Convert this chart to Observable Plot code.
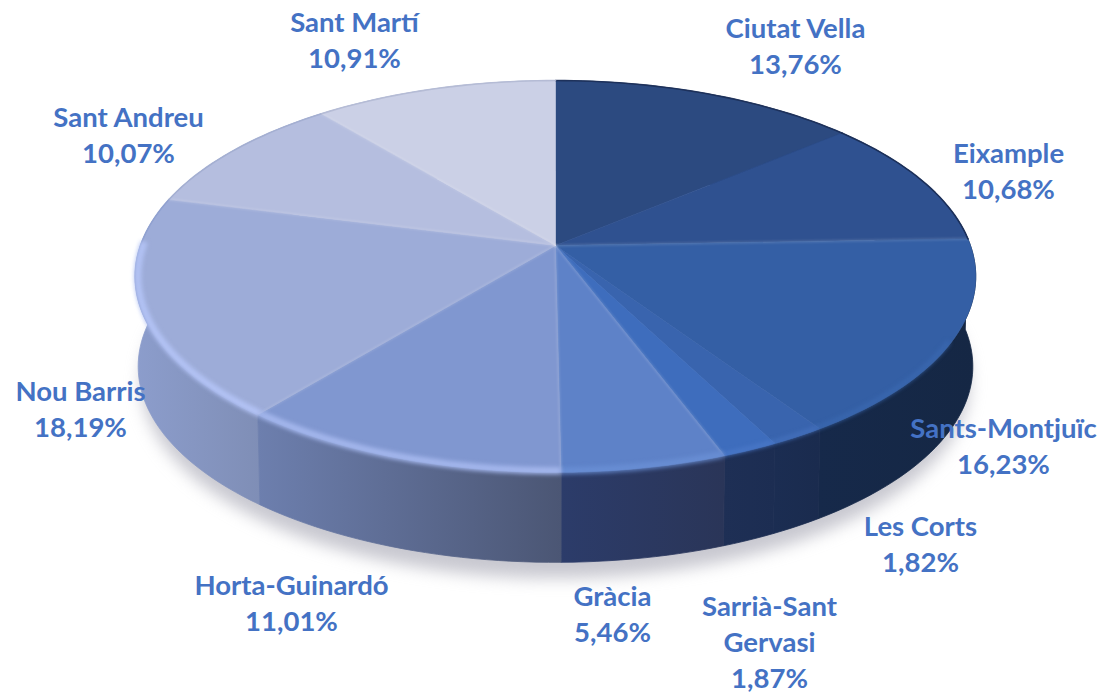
<!DOCTYPE html>
<html><head><meta charset="utf-8">
<script src="https://cdn.jsdelivr.net/npm/d3@7"></script>
<script src="https://cdn.jsdelivr.net/npm/@observablehq/plot@0.6"></script>
<style>html,body{margin:0;padding:0;background:#fff}svg{display:block}</style>
</head><body><div id="chart"></div>
<script>
const districts = ["Ciutat Vella","Eixample","Sants-Montjuïc","Les Corts","Sarrià-Sant\nGervasi","Gràcia","Horta-Guinardó","Nou Barris","Sant Andreu","Sant Martí"];
const shares = [13.76,10.68,16.23,1.82,1.87,5.46,11.01,18.19,10.07,10.91];
const shareLabels = ["13,76%","10,68%","16,23%","1,82%","1,87%","5,46%","11,01%","18,19%","10,07%","10,91%"];
const faceColors = ["#2c4a80","#2f5190","#345fa5","#3964ae","#3e6dbd","#5e82c8","#8097d0","#9dacd8","#b5bedf","#cbd0e6"];
const wallLeft  = ["#162846","#162846","#16294a","#1b2d52","#1e2f55","#2c3c6a","#6d7fae","#8c9dcc","#8c9dcc","#8c9dcc"];
const wallRight = ["#162846","#162846","#152744","#1a2b4e","#1c2d52","#2a3558","#4b5674","#7f8eb6","#7f8eb6","#7f8eb6"];
const rimColors = [null,null,"#3a68b0","#4470bc","#4a78c8","#6a90d6","#a3b6ec","#b2c2f4",null,null];
const edgeColors = ["#1c2f58","#1a2c54",null,null,null,null,null,"#8fa0cf","#a3aed0","#b4bad4"];
// share of each slice's arc, from its far end, that carries the bevel highlight
const rimSpan = [0,0,0.5,1,1,1,1,0.8,0,0];
// label centres, in the chart's pixel-sized x/y scales
const labelX = [795,1008,1003,920,769,612,291,80,128,354];
const labelY = [44,169,444,542,640,612,601,407,133,38];

// perspective disc: centre where the slices meet, nearer points drawn larger
const cx = 555, cy = 245, B = 415, A = 191, k = 0.158, depth = 90;
function project(turn, r = 1, dy = 0, shrink = 1) {
  const a = turn * 2 * Math.PI, u = r * Math.sin(a), v = r * Math.cos(a), w = 1 / (1 + k * v);
  return {x: cx + B * shrink * u * w, y: cy - A * v * w + dy};
}
const total = d3.sum(shares);
const starts = d3.cumsum([0, ...shares.slice(0, -1)]).map(d => d / total);
const ends = d3.cumsum(shares).map(d => d / total);
const arc = (i, r = 1, dy = 0, shrink = 1) => {
  const n = Math.max(4, Math.ceil((ends[i] - starts[i]) * 240));
  return d3.range(n + 1).map(j => project(starts[i] + (ends[i] - starts[i]) * j / n, r, dy, shrink));
};
const whole = (r, dy, shrink) => d3.range(241).map(j => project(j / 240, r, dy, shrink));
const order = [0,1,2,9,8,7,3,4,5,6];

const defs = () => {
  const g = d3.create("svg:defs");
  districts.forEach((_, i) => {
    const lg = g.append("linearGradient").attr("id", `wall${i}`).attr("x1", 0).attr("x2", 1).attr("y1", 0).attr("y2", 0);
    lg.append("stop").attr("offset", 0).attr("stop-color", wallLeft[i]);
    lg.append("stop").attr("offset", 1).attr("stop-color", wallRight[i]);
  });
  return g.node();
};

const L = (pts, o) => Plot.line(pts, {x: "x", y: "y", curve: "linear", ...o});
const marks = [
  defs,
  L(whole(1.0, depth + 16, 0.985), {fill: "#a4a4b0", stroke: "none", fillOpacity: 0.6, imageFilter: "blur(8px)"}),
];
for (const i of order) {
  const top = arc(i), bottom = arc(i, 1, depth, 0.993).reverse();
  marks.push(L([...top, ...bottom, top[0]], {fill: `url(#wall${i})`, stroke: `url(#wall${i})`, strokeWidth: 0.8}));
}
districts.forEach((_, i) => {
  marks.push(L([{x: cx, y: cy}, ...arc(i), {x: cx, y: cy}], {fill: faceColors[i], stroke: faceColors[i], strokeWidth: 0.6}));
});
// soft light seams between neighbouring slices
[2,5,6,7,8,9].forEach(i => {
  marks.push(L([{x: cx, y: cy}, project(starts[i])], {stroke: "#fff", strokeWidth: 2.5, strokeOpacity: 0.13, imageFilter: "blur(1.2px)"}));
});
districts.forEach((_, i) => {
  if (edgeColors[i]) marks.push(L(arc(i), {stroke: edgeColors[i], strokeWidth: 1.6, strokeOpacity: 0.9, imageFilter: "blur(0.5px)"}));
  if (rimColors[i]) {
    const pts = arc(i, 0.994);
    const kept = i === 7 ? pts.slice(0, Math.ceil(pts.length * rimSpan[i])) : pts.slice(Math.floor(pts.length * (1 - rimSpan[i])));
    marks.push(L(kept, {stroke: rimColors[i], strokeWidth: i >= 5 ? 7 : 4, strokeOpacity: i === 5 ? 0.8 : 1, strokeLinecap: "butt", imageFilter: "blur(2px)"}));
  }
});
marks.push(Plot.text(districts.map((d, i) => ({name: `${d}\n${shareLabels[i]}`, x: labelX[i], y: labelY[i]})), {
  x: "x", y: "y", text: "name", fill: "#4472c4", fontFamily: "Lato", fontWeight: 700, fontSize: 27.5, lineHeight: 1.31, textAnchor: "middle"
}));

document.getElementById("chart").append(Plot.plot({
  width: 1102, height: 695, margin: 0,
  x: {domain: [0, 1102], range: [0, 1102], axis: null},
  y: {domain: [0, 695], range: [0, 695], axis: null},
  style: {background: "#fff", overflow: "visible"},
  marks
}));
</script></body></html>
